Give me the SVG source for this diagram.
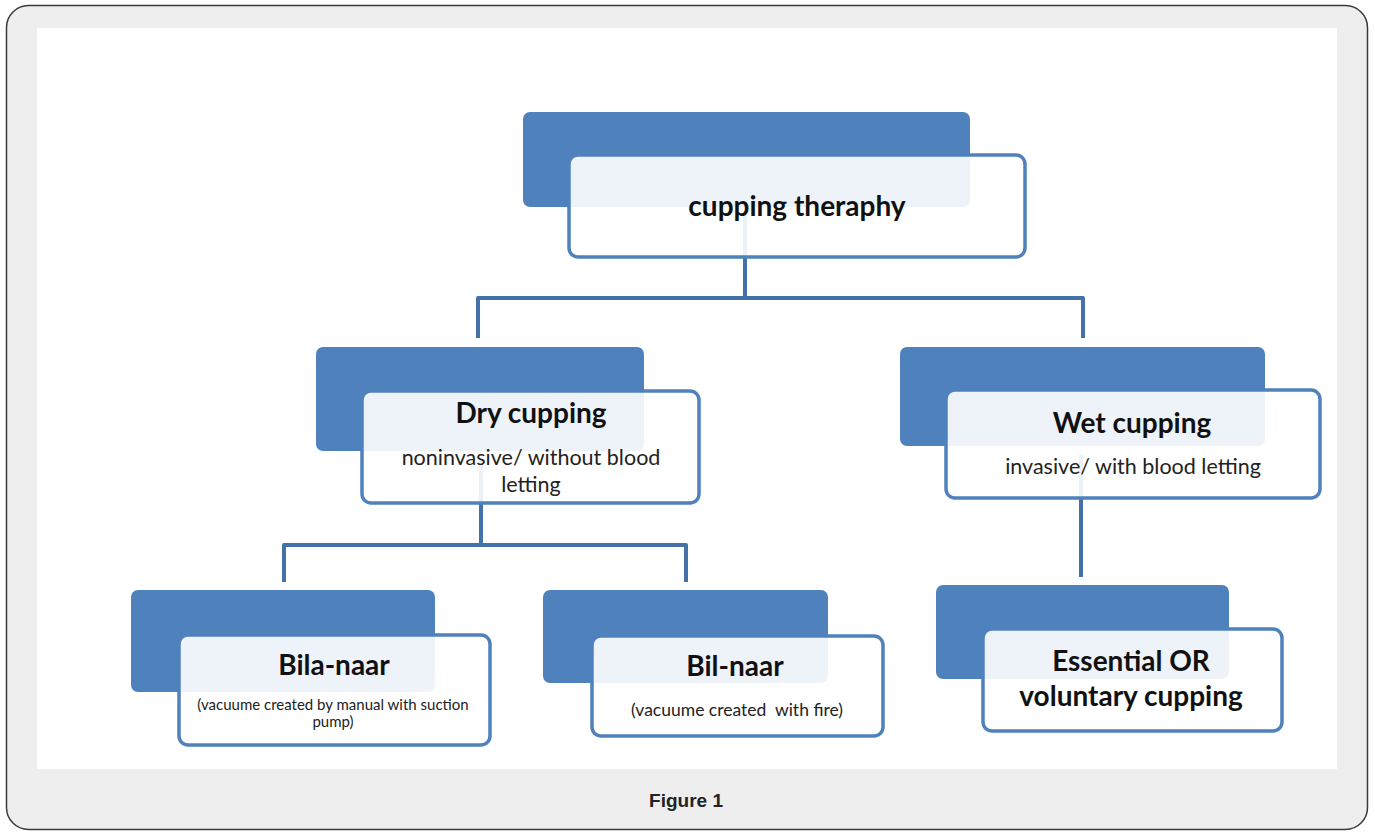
<svg xmlns="http://www.w3.org/2000/svg" width="1375" height="832" viewBox="0 0 1375 832">
<style>
.back{fill:#4f81bd}
.front{fill:#ffffff;fill-opacity:0.9;stroke:#4f81bd;stroke-width:3.5}
.conn{fill:none;stroke:#4471a8;stroke-width:4;stroke-linejoin:round}
.t{font-family:Lato,"Open Sans",sans-serif;font-weight:bold;fill:#111;text-anchor:middle;font-size:28px}
.s{font-family:Lato,"Open Sans",sans-serif;fill:#222;text-anchor:middle}
</style>
<rect x="6.5" y="5.5" width="1361" height="824" rx="22" fill="#eeeeee" stroke="#3a3a3a" stroke-width="1.5"/>
<rect x="37" y="28" width="1300" height="741" fill="#ffffff"/>
<g id="connectors">
<path class="conn" d="M745 215 V298 M478 338 V298 H1083 V338"/>
<path class="conn" d="M481 460 V545 M284 582 V545 H686 V582"/>
<path class="conn" d="M1081 455 V577"/>
</g>
<g id="node-cupping-theraphy">
<rect class="back" x="523" y="112" width="447" height="95" rx="7"/>
<rect class="front" x="569" y="155" width="456" height="102" rx="9"/>
<text class="t" x="797" y="216">cupping theraphy</text>
</g>
<g id="node-dry-cupping">
<rect class="back" x="316" y="347" width="328" height="104" rx="7"/>
<rect class="front" x="362" y="391" width="337" height="112" rx="9"/>
<text class="t" x="531" y="423">Dry cupping</text>
<text class="s" x="531" y="465" font-size="21.5">noninvasive/ without blood</text>
<text class="s" x="531" y="492" font-size="21.5">letting</text>
</g>
<g id="node-wet-cupping">
<rect class="back" x="900" y="347" width="365" height="99" rx="7"/>
<rect class="front" x="946" y="390" width="374" height="108" rx="9"/>
<text class="t" x="1132" y="433">Wet cupping</text>
<text class="s" x="1133" y="474" font-size="21.5">invasive/ with blood letting</text>
</g>
<g id="node-bila-naar">
<rect class="back" x="131" y="590" width="304" height="102" rx="7"/>
<rect class="front" x="179" y="635" width="311" height="110" rx="9"/>
<text class="t" x="334" y="675">Bila-naar</text>
<text class="s" x="333" y="710" font-size="15">(vacuume created by manual with suction</text>
<text class="s" x="333" y="727" font-size="15">pump)</text>
</g>
<g id="node-bil-naar">
<rect class="back" x="543" y="590" width="285" height="93" rx="7"/>
<rect class="front" x="592" y="636" width="291" height="100" rx="9"/>
<text class="t" x="735" y="676">Bil-naar</text>
<text class="s" x="737" y="716" font-size="17.5" xml:space="preserve">(vacuume created  with fire)</text>
</g>
<g id="node-essential">
<rect class="back" x="936" y="585" width="293" height="94" rx="7"/>
<rect class="front" x="983" y="629" width="299" height="102" rx="9"/>
<text class="t" x="1131" y="671">Essential OR</text>
<text class="t" x="1131" y="706">voluntary cupping</text>
</g>
<text x="686" y="807" font-family="Liberation Sans,Arial,sans-serif" font-weight="bold" font-size="19" fill="#222" text-anchor="middle">Figure 1</text>
</svg>
